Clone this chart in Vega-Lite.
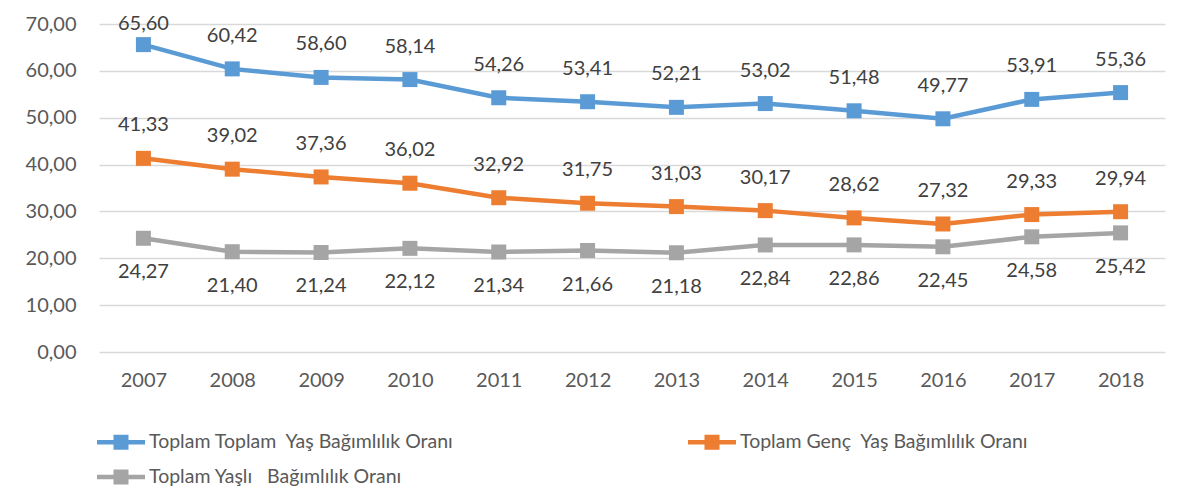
{
  "$schema": "https://vega.github.io/schema/vega-lite/v6.json",
  "width": 1066,
  "height": 328,
  "autosize": {"type": "none"},
  "padding": {"left": 99, "top": 24, "right": 27, "bottom": 143},
  "background": "white",
  "config": {
    "locale": {"number": {"decimal": ",", "thousands": ".", "grouping": [3], "currency": ["", " TL"]}},
    "view": {"stroke": null},
    "font": "Lato"
  },
  "data": {"values": [
    {"year": "2007", "seri": "Toplam Toplam \u00a0Yaş Bağımlılık Oranı", "value": 65.60},
    {"year": "2008", "seri": "Toplam Toplam \u00a0Yaş Bağımlılık Oranı", "value": 60.42},
    {"year": "2009", "seri": "Toplam Toplam \u00a0Yaş Bağımlılık Oranı", "value": 58.60},
    {"year": "2010", "seri": "Toplam Toplam \u00a0Yaş Bağımlılık Oranı", "value": 58.14},
    {"year": "2011", "seri": "Toplam Toplam \u00a0Yaş Bağımlılık Oranı", "value": 54.26},
    {"year": "2012", "seri": "Toplam Toplam \u00a0Yaş Bağımlılık Oranı", "value": 53.41},
    {"year": "2013", "seri": "Toplam Toplam \u00a0Yaş Bağımlılık Oranı", "value": 52.21},
    {"year": "2014", "seri": "Toplam Toplam \u00a0Yaş Bağımlılık Oranı", "value": 53.02},
    {"year": "2015", "seri": "Toplam Toplam \u00a0Yaş Bağımlılık Oranı", "value": 51.48},
    {"year": "2016", "seri": "Toplam Toplam \u00a0Yaş Bağımlılık Oranı", "value": 49.77},
    {"year": "2017", "seri": "Toplam Toplam \u00a0Yaş Bağımlılık Oranı", "value": 53.91},
    {"year": "2018", "seri": "Toplam Toplam \u00a0Yaş Bağımlılık Oranı", "value": 55.36},
    {"year": "2007", "seri": "Toplam Genç \u00a0Yaş Bağımlılık Oranı", "value": 41.33},
    {"year": "2008", "seri": "Toplam Genç \u00a0Yaş Bağımlılık Oranı", "value": 39.02},
    {"year": "2009", "seri": "Toplam Genç \u00a0Yaş Bağımlılık Oranı", "value": 37.36},
    {"year": "2010", "seri": "Toplam Genç \u00a0Yaş Bağımlılık Oranı", "value": 36.02},
    {"year": "2011", "seri": "Toplam Genç \u00a0Yaş Bağımlılık Oranı", "value": 32.92},
    {"year": "2012", "seri": "Toplam Genç \u00a0Yaş Bağımlılık Oranı", "value": 31.75},
    {"year": "2013", "seri": "Toplam Genç \u00a0Yaş Bağımlılık Oranı", "value": 31.03},
    {"year": "2014", "seri": "Toplam Genç \u00a0Yaş Bağımlılık Oranı", "value": 30.17},
    {"year": "2015", "seri": "Toplam Genç \u00a0Yaş Bağımlılık Oranı", "value": 28.62},
    {"year": "2016", "seri": "Toplam Genç \u00a0Yaş Bağımlılık Oranı", "value": 27.32},
    {"year": "2017", "seri": "Toplam Genç \u00a0Yaş Bağımlılık Oranı", "value": 29.33},
    {"year": "2018", "seri": "Toplam Genç \u00a0Yaş Bağımlılık Oranı", "value": 29.94},
    {"year": "2007", "seri": "Toplam Yaşlı \u00a0\u00a0Bağımlılık Oranı", "value": 24.27},
    {"year": "2008", "seri": "Toplam Yaşlı \u00a0\u00a0Bağımlılık Oranı", "value": 21.40},
    {"year": "2009", "seri": "Toplam Yaşlı \u00a0\u00a0Bağımlılık Oranı", "value": 21.24},
    {"year": "2010", "seri": "Toplam Yaşlı \u00a0\u00a0Bağımlılık Oranı", "value": 22.12},
    {"year": "2011", "seri": "Toplam Yaşlı \u00a0\u00a0Bağımlılık Oranı", "value": 21.34},
    {"year": "2012", "seri": "Toplam Yaşlı \u00a0\u00a0Bağımlılık Oranı", "value": 21.66},
    {"year": "2013", "seri": "Toplam Yaşlı \u00a0\u00a0Bağımlılık Oranı", "value": 21.18},
    {"year": "2014", "seri": "Toplam Yaşlı \u00a0\u00a0Bağımlılık Oranı", "value": 22.84},
    {"year": "2015", "seri": "Toplam Yaşlı \u00a0\u00a0Bağımlılık Oranı", "value": 22.86},
    {"year": "2016", "seri": "Toplam Yaşlı \u00a0\u00a0Bağımlılık Oranı", "value": 22.45},
    {"year": "2017", "seri": "Toplam Yaşlı \u00a0\u00a0Bağımlılık Oranı", "value": 24.58},
    {"year": "2018", "seri": "Toplam Yaşlı \u00a0\u00a0Bağımlılık Oranı", "value": 25.42}
  ]},
  "layer": [
    {
      "layer": [
        {
          "mark": {"type": "line", "strokeWidth": 4.5},
          "encoding": {
            "x": {"field": "year", "type": "ordinal", "scale": {"type": "point", "padding": 0.5},
                  "axis": {"title": null, "labelAngle": 0, "domain": false, "ticks": false, "grid": false, "labelFontSize": 20, "labelColor": "#595959", "labelPadding": 18, "labelFont": "Lato"}},
            "y": {"field": "value", "type": "quantitative", "scale": {"domain": [0, 70], "nice": false},
                  "axis": {"title": null, "values": [0, 10, 20, 30, 40, 50, 60, 70], "format": ".2f", "domain": false, "ticks": false, "grid": true, "gridColor": "#D9D9D9", "gridWidth": 1.5, "labelFontSize": 20, "labelColor": "#595959", "labelPadding": 23, "labelFont": "Lato"}},
            "color": {"field": "seri", "type": "nominal",
                      "scale": {"domain": ["Toplam Toplam \u00a0Yaş Bağımlılık Oranı", "Toplam Genç \u00a0Yaş Bağımlılık Oranı", "Toplam Yaşlı \u00a0\u00a0Bağımlılık Oranı"], "range": ["#5B9BD5", "#ED7D31", "#A5A5A5"]},
                      "legend": {"title": null, "orient": "none", "legendX": 10, "legendY": 406, "direction": "horizontal", "columns": 2, "columnPadding": 234, "rowPadding": 13,
                                 "symbolType": "M-2,-0.19H2V0.19H-2Z M-0.625,-0.625H0.625V0.625H-0.625Z", "symbolSize": 576, "symbolStrokeWidth": 0,
                                 "labelFontSize": 19.5, "labelColor": "#595959", "labelFont": "Lato", "labelOffset": 16, "labelLimit": 500,
                                 "encode": {"symbols": {"update": {"fill": {"field": "value", "scale": "color"}, "strokeWidth": {"value": 0}, "opacity": {"value": 1}}}}}}
          }
        },
        {
          "mark": {"type": "point", "shape": "square", "filled": true, "size": 225, "opacity": 1},
          "encoding": {
            "x": {"field": "year", "type": "ordinal"},
            "y": {"field": "value", "type": "quantitative"},
            "color": {"field": "seri", "type": "nominal"}
          }
        },
        {
          "transform": [{"filter": {"field": "seri", "equal": "Toplam Genç \u00a0Yaş Bağımlılık Oranı"}}],
          "mark": {"type": "text", "dy": -33, "fontSize": 20, "font": "Lato", "color": "#404040", "baseline": "middle"},
          "encoding": {
            "x": {"field": "year", "type": "ordinal"},
            "y": {"field": "value", "type": "quantitative"},
            "text": {"field": "value", "type": "quantitative", "format": ".2f"}
          }
        },
        {
          "transform": [{"filter": {"field": "seri", "equal": "Toplam Yaşlı \u00a0\u00a0Bağımlılık Oranı"}}],
          "mark": {"type": "text", "dy": 34, "fontSize": 20, "font": "Lato", "color": "#404040", "baseline": "middle"},
          "encoding": {
            "x": {"field": "year", "type": "ordinal"},
            "y": {"field": "value", "type": "quantitative"},
            "text": {"field": "value", "type": "quantitative", "format": ".2f"}
          }
        }
      ]
    },
    {
      "transform": [{"filter": {"field": "seri", "equal": "Toplam Toplam \u00a0Yaş Bağımlılık Oranı"}}],
      "mark": {"type": "text", "fontSize": 20, "font": "Lato", "color": "#404040", "baseline": "middle"},
      "encoding": {
        "x": {"field": "year", "type": "ordinal"},
        "y": {"field": "value", "type": "quantitative", "scale": {"domain": [-7.04, 62.96], "nice": false, "clamp": true, "zero": false}, "axis": null},
        "text": {"field": "value", "type": "quantitative", "format": ".2f"}
      }
    }
  ],
  "resolve": {"scale": {"y": "independent"}}
}
